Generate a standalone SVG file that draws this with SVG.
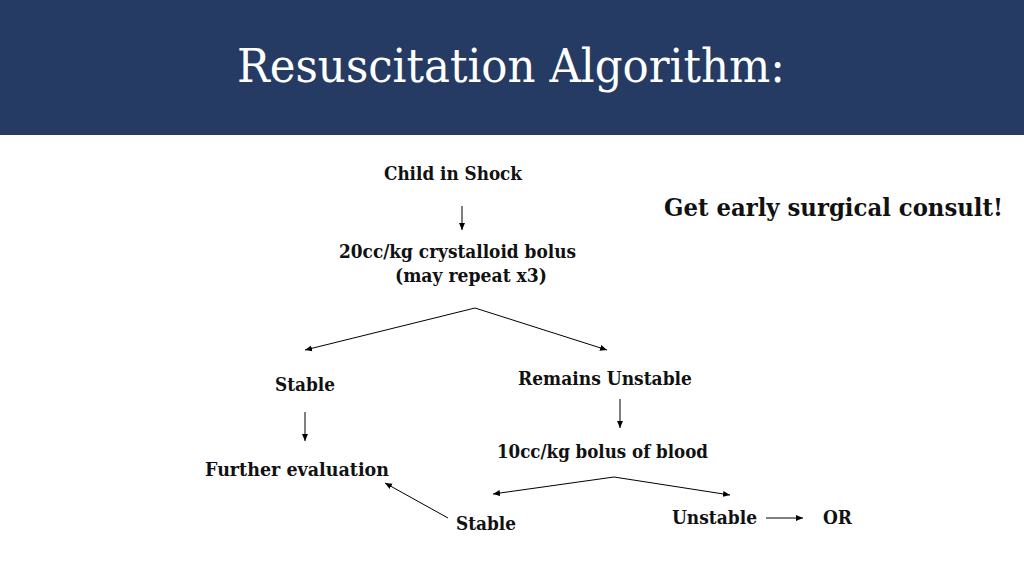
<svg xmlns="http://www.w3.org/2000/svg" width="1024" height="575" viewBox="0 0 1024 575">
<defs>
<marker id="ah" markerWidth="8" markerHeight="8" refX="7" refY="4" orient="auto" markerUnits="userSpaceOnUse">
<path d="M0,1 L7,4 L0,7 Z" fill="#000"/>
</marker>
<style>
.t{font-family:"DejaVu Serif","Liberation Serif",serif;font-weight:bold;font-size:19px;fill:#111}
.c{stroke:#000;stroke-width:1;fill:none;marker-end:url(#ah)}
</style>
</defs>
<rect width="1024" height="575" fill="#fff"/>
<rect width="1024" height="135" fill="#253b63"/>
<text x="511" y="82" text-anchor="middle" font-family="DejaVu Serif, Liberation Serif, serif" font-size="46" fill="#fff" textLength="548" lengthAdjust="spacingAndGlyphs">Resuscitation Algorithm:</text>
<g id="n1"><text class="t" x="384" y="180" textLength="138" lengthAdjust="spacingAndGlyphs">Child in Shock</text></g>
<g id="note"><text class="t" x="664" y="216" font-size="24" style="font-size:24px" textLength="339" lengthAdjust="spacingAndGlyphs">Get early surgical consult!</text></g>
<g id="n2"><text class="t" x="339" y="258" textLength="237" lengthAdjust="spacingAndGlyphs">20cc/kg crystalloid bolus</text><text class="t" x="395" y="282" textLength="152" lengthAdjust="spacingAndGlyphs">(may repeat x3)</text></g>
<g id="n3"><text class="t" x="275" y="391" textLength="60" lengthAdjust="spacingAndGlyphs">Stable</text></g>
<g id="n4"><text class="t" x="518" y="385" textLength="174" lengthAdjust="spacingAndGlyphs">Remains Unstable</text></g>
<g id="n5"><text class="t" x="497" y="458" textLength="211" lengthAdjust="spacingAndGlyphs">10cc/kg bolus of blood</text></g>
<g id="n6"><text class="t" x="205" y="476" textLength="184" lengthAdjust="spacingAndGlyphs">Further evaluation</text></g>
<g id="n7"><text class="t" x="456" y="530" textLength="60" lengthAdjust="spacingAndGlyphs">Stable</text></g>
<g id="n8"><text class="t" x="672" y="524" textLength="85" lengthAdjust="spacingAndGlyphs">Unstable</text></g>
<g id="n9"><text class="t" x="823" y="524" textLength="29" lengthAdjust="spacingAndGlyphs">OR</text></g>
<g id="connectors">
<path class="c" d="M462,206 L462,230"/>
<path class="c" d="M475,308 L305,350"/>
<path class="c" d="M475,308 L607,350"/>
<path class="c" d="M620,399 L620,428"/>
<path class="c" d="M305,412 L305,441"/>
<path class="c" d="M614,477 L493,494"/>
<path class="c" d="M614,477 L730,495"/>
<path class="c" d="M448,518 L385,483"/>
<path class="c" d="M766,518 L803,518"/>
</g>
</svg>
